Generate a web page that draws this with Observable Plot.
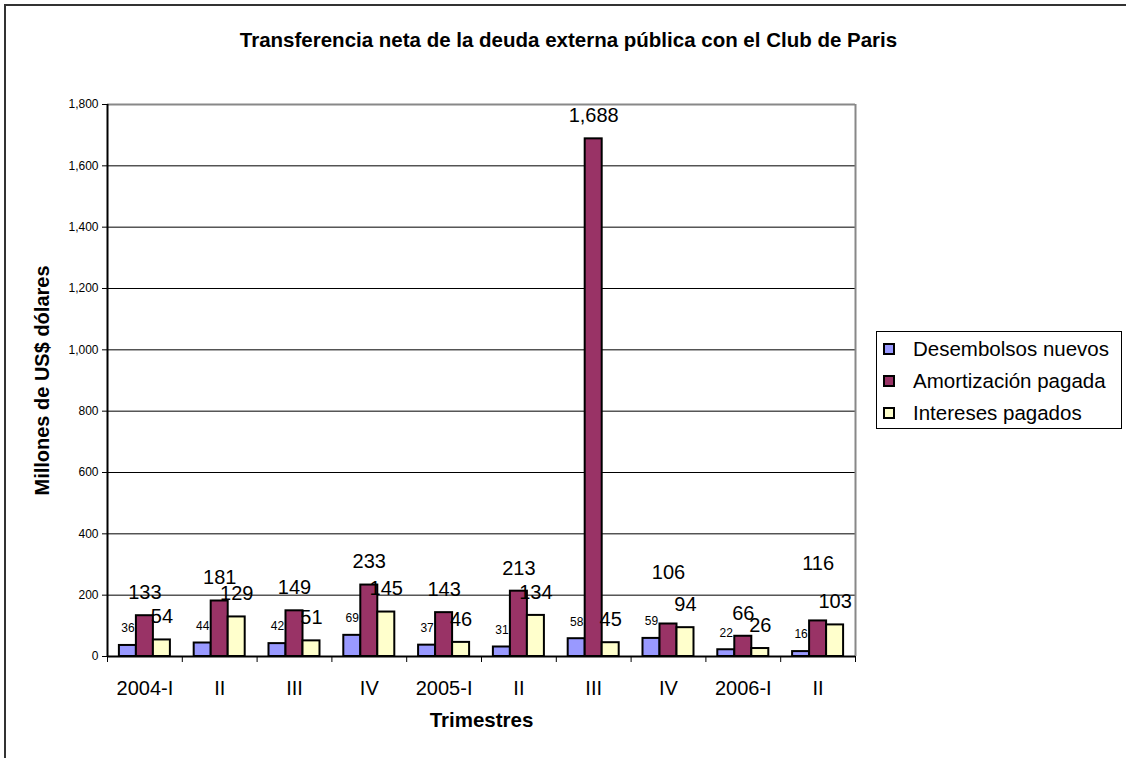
<!DOCTYPE html>
<html>
<head>
<meta charset="utf-8">
<script src="https://cdn.jsdelivr.net/npm/d3@7"></script>
<script src="https://cdn.jsdelivr.net/npm/@observablehq/plot@0.6"></script>
<style>
  html, body { margin: 0; padding: 0; background: #fff; }
  #wrap { position: relative; width: 1126px; height: 758px; overflow: hidden; font-family: "Liberation Sans", Arial, sans-serif; }
  #border { position: absolute; left: 4px; top: 4px; width: 1200px; height: 900px; border-left: 2px solid #333; border-top: 2px solid #333; pointer-events: none; }
  #legend { position: absolute; left: 876px; top: 331px; width: 244px; height: 96px; border: 1px solid #000; background: #fff; }
  .item { position: absolute; left: 6px; height: 22px; display: flex; align-items: center; font-size: 20.5px; color: #000; white-space: nowrap; }
  .sw { width: 8px; height: 8px; border: 2px solid #000; margin-right: 18px; }
</style>
</head>
<body>
<div id="wrap"><div id="chart"></div><div id="legend"></div><div id="border"></div></div>
<script>
const quarters = ["2004-I", "II", "III", "IV", "2005-I", "II", "III", "IV", "2006-I", "II"];
const seriesNames = ["Desembolsos nuevos", "Amortización pagada", "Intereses pagados"];
const desembolsos = [36, 44, 42, 69, 37, 31, 58, 59, 22, 16];
const amortizacion = [133, 181, 149, 233, 143, 213, 1688, 106, 66, 116];
const intereses = [54, 129, 51, 145, 46, 134, 45, 94, 26, 103];
const yTicks = [0, 200, 400, 600, 800, 1000, 1200, 1400, 1600, 1800];
const seriesColors = ["#9999FF", "#993366", "#FFFFCC"];

const title = "Transferencia neta de la deuda externa pública con el Club de Paris";
const yTitle = "Millones de US$ dólares";
const xTitle = "Trimestres";

const values = [desembolsos, amortizacion, intereses];
const rows = quarters.flatMap((q, i) => seriesNames.map((s, k) => ({i, q, s, k, v: values[k][i]})));

// layout of the three bars inside each quarter
const groupStart = 0.159, barW = 0.2273;
const bx1 = d => d.i + groupStart + d.k * barW;
const bx2 = d => d.i + groupStart + (d.k + 1) * barW;
const bxc = d => d.i + groupStart + (d.k + 0.5) * barW;
// labels moved higher in the original
const raised = new Map([[7, -51], [9, -57]]);

const fmt = d3.format(",");

const chart = Plot.plot({
  width: 1126,
  height: 758,
  marginLeft: 107,
  marginRight: 271,
  marginTop: 104,
  marginBottom: 102,
  style: {fontFamily: "'Liberation Sans', Arial, sans-serif", background: "transparent"},
  x: {type: "linear", domain: [0, quarters.length], axis: null},
  y: {domain: [0, 1800], axis: null},
  color: {domain: seriesNames, range: seriesColors},
  marks: [
    Plot.ruleY(yTicks.filter(t => t > 0 && t < 1800), {stroke: "#000", strokeWidth: 1}),
    Plot.ruleY([1800], {stroke: "#888", strokeWidth: 2}),
    Plot.ruleX([quarters.length], {stroke: "#888", strokeWidth: 2}),
    Plot.rectY(rows, {x1: bx1, x2: bx2, y: "v", fill: "s", stroke: "#000", strokeWidth: 2}),
    Plot.ruleX([0], {stroke: "#000", strokeWidth: 2}),
    Plot.ruleY([0], {stroke: "#000", strokeWidth: 2}),
    Plot.axisY({ticks: yTicks, tickFormat: fmt, tickSize: 5, tickPadding: 4, fontSize: 12, label: null, stroke: "#000"}),
    Plot.axisX({ticks: d3.range(quarters.length + 1), tickFormat: () => "", tickSize: 6, label: null, stroke: "#000"}),
    Plot.axisX({ticks: d3.range(quarters.length).map(i => i + 0.5), tickFormat: t => quarters[Math.floor(t)], tickSize: 0, tickPadding: 24, fontSize: 20, label: null}),
    // small labels for Desembolsos
    Plot.text(rows.filter(d => d.k === 0), {x: bxc, y: "v", text: d => fmt(d.v), dy: -17, fontSize: 12, fill: "#000", lineAnchor: "middle"}),
    // large labels for Amortización and Intereses
    Plot.text(rows.filter(d => d.k > 0 && !(d.k === 1 && raised.has(d.i))), {x: bxc, y: "v", text: d => fmt(d.v), dy: -23, fontSize: 20, fill: "#000", lineAnchor: "middle"}),
    Plot.text(rows.filter(d => d.k === 1 && d.i === 7), {x: bxc, y: "v", text: d => fmt(d.v), dy: raised.get(7), fontSize: 20, fill: "#000", lineAnchor: "middle"}),
    Plot.text(rows.filter(d => d.k === 1 && d.i === 9), {x: bxc, y: "v", text: d => fmt(d.v), dy: raised.get(9), fontSize: 20, fill: "#000", lineAnchor: "middle"}),
    // titles
    Plot.text([title], {frameAnchor: "top", dx: 87, dy: -64, fontSize: 20.5, fontWeight: "bold", fill: "#000", lineAnchor: "middle", textAnchor: "middle"}),
    Plot.text([xTitle], {frameAnchor: "bottom", dy: 64, fontSize: 20.5, fontWeight: "bold", fill: "#000", lineAnchor: "middle", textAnchor: "middle"}),
    Plot.text([yTitle], {frameAnchor: "left", dx: -65, rotate: -90, fontSize: 20, fontWeight: "bold", fill: "#000", lineAnchor: "middle", textAnchor: "middle"})
  ]
});
document.getElementById("chart").appendChild(chart);

const legend = document.getElementById("legend");
seriesNames.forEach((name, k) => {
  const item = document.createElement("div");
  item.className = "item";
  item.style.top = (6 + k * 32) + "px";
  const sw = document.createElement("div");
  sw.className = "sw";
  sw.style.background = seriesColors[k];
  const lab = document.createElement("span");
  lab.textContent = name;
  item.appendChild(sw);
  item.appendChild(lab);
  legend.appendChild(item);
});
</script>
</body>
</html>
